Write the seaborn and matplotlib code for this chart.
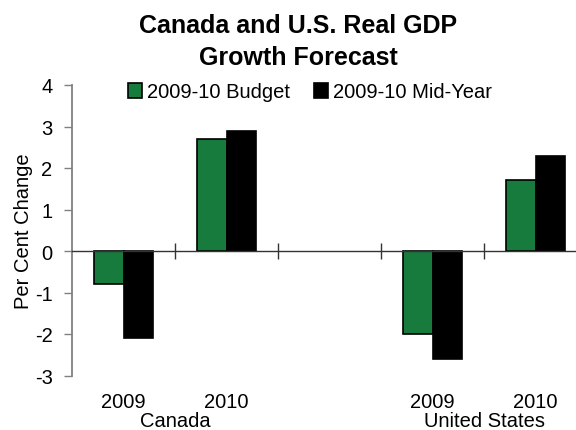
import matplotlib
matplotlib.use("Agg")
import matplotlib.pyplot as plt
from matplotlib.patches import Patch
import seaborn as sns
import pandas as pd

# Real GDP growth forecasts, per cent change
countries = ["Canada", "Canada", "United States", "United States"]
years = ["2009", "2010", "2009", "2010"]
budget = [-0.8, 2.7, -2.0, 1.7]
mid_year = [-2.1, 2.9, -2.6, 2.3]
series_names = ["2009-10 Budget", "2009-10 Mid-Year"]
series_colors = ["#177B3D", "#000000"]
y_ticks = [-3, -2, -1, 0, 1, 2, 3, 4]

# category slots: one empty slot separates the two countries
slots = [f"{c} {y}" for c, y in zip(countries[:2], years[:2])] + [" "] + \
        [f"{c} {y}" for c, y in zip(countries[2:], years[2:])]
data_slots = [s for s in slots if s.strip()]

rows = []
for slot, b, m in zip(data_slots, budget, mid_year):
    rows.append({"slot": slot, "series": series_names[0], "value": b})
    rows.append({"slot": slot, "series": series_names[1], "value": m})
df = pd.DataFrame(rows)

sns.set_theme(style="white")
plt.rcParams["font.family"] = ["Liberation Sans", "DejaVu Sans"]
plt.rcParams["text.color"] = "black"
plt.rcParams["axes.labelcolor"] = "black"
plt.rcParams["xtick.color"] = "black"
plt.rcParams["ytick.color"] = "black"

W, H = 576, 431
fig = plt.figure(figsize=(W / 100, H / 100), dpi=100)
left_px, right_px = 72, 576
top_px, bottom_px = 86, 376.5
ax = fig.add_axes([left_px / W, 1 - bottom_px / H,
                   (right_px - left_px) / W, (bottom_px - top_px) / H])

sns.barplot(data=df, x="slot", y="value", hue="series", order=slots,
            hue_order=series_names, palette=series_colors, saturation=1,
            width=0.58, gap=0, dodge=True, errorbar=None, edgecolor="black",
            linewidth=1.2, legend=False, ax=ax)

slot_px = 103.0
n_visible = (right_px - left_px) / slot_px
ax.set_xlim(-0.5, -0.5 + n_visible)
ax.set_ylim(min(y_ticks), max(y_ticks))

# y axis in grey with outward ticks
ax.set_yticks(y_ticks)
ax.set_yticklabels([str(t) for t in y_ticks], fontsize=14.5)
ax.tick_params(axis="y", direction="out", length=6, width=1, color="#808080",
               pad=8, left=True, labelcolor="black")
ax.spines["left"].set_color("#808080")
ax.spines["left"].set_linewidth(1.3)
ax.spines["top"].set_visible(False)
ax.spines["right"].set_visible(False)

# x axis drawn along zero with crossing ticks between categories
ax.spines["bottom"].set_position(("data", 0))
ax.spines["bottom"].set_color("#333333")
ax.spines["bottom"].set_linewidth(1.0)
ax.set_xticks([i + 0.5 for i in range(len(slots) - 1)])
ax.set_xticklabels([])
ax.tick_params(axis="x", direction="inout", length=12, width=1,
               color="#333333", bottom=True)
ax.set_xlabel("")

ax.set_ylabel("Per Cent Change", fontsize=14.5, color="black")
ax.yaxis.set_label_coords(-0.077, 0.5)

# category and country labels beneath the plot
trans = ax.get_xaxis_transform()
for i, slot in enumerate(slots):
    if not slot.strip():
        continue
    ax.text(i, -0.088, slot.split()[-1], transform=trans, ha="center",
            va="center", fontsize=14.5, color="black")
seen = []
for country in countries:
    if country in seen:
        continue
    seen.append(country)
    idx = [i for i, s in enumerate(slots) if s.startswith(country)]
    ax.text(sum(idx) / len(idx), -0.155, country, transform=trans,
            ha="center", va="center", fontsize=14.5, color="black")

handles = [Patch(facecolor=c, edgecolor="black", linewidth=1.2)
           for c in series_colors]
fig.legend(handles, series_names, loc="center", ncol=2, frameon=False,
           bbox_to_anchor=(310 / W, 1 - 93 / H), fontsize=14.5,
           handlelength=0.7, handleheight=0.7, handletextpad=0.25,
           columnspacing=1.15, borderaxespad=0, labelcolor="black")

fig.text(298 / W, 1 - 33 / H, "Canada and U.S. Real GDP", ha="center",
         va="baseline", fontsize=18, fontweight="bold", color="black")
fig.text(298 / W, 1 - 65 / H, "Growth Forecast", ha="center",
         va="baseline", fontsize=18, fontweight="bold", color="black")

fig.savefig("out.png", dpi=100, facecolor="white")
